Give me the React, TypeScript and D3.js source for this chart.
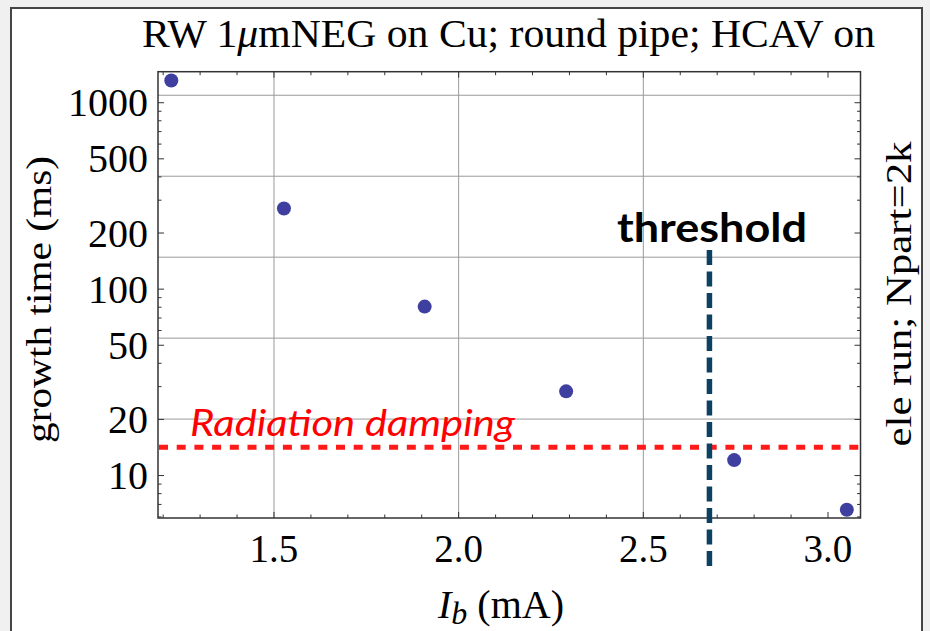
import React from "react";
import * as d3 from "d3";

// ---- data ----
const currents = [1.222, 1.527, 1.908, 2.291, 2.746, 3.051]; // I_b (mA)
const growthTimes = [1315, 271, 80.6, 28.3, 12.1, 6.56]; // ms
const yTickLabels = [10, 20, 50, 100, 200, 500, 1000];
const xTickLabels = [1.5, 2.0, 2.5, 3.0];
const xGridValues = [1.5, 2.0, 2.5];
const yGridValues = [20.09, 54.6, 148.4, 403.4, 1096.6];
const radiationDamping = 14.2; // ms
const thresholdCurrent = 2.679; // mA
const xDomain = [1.186, 3.088];
const yDomain = [5.92, 1467];

const W = 930;
const H = 631;
const L = 158, R = 860.5, T = 71.7, B = 518;

const serif = "'Liberation Serif', 'Times New Roman', serif";
const sans = "Lato, 'Open Sans', sans-serif";

export default function App() {
  const x = d3.scaleLinear().domain(xDomain).range([L, R]);
  const y = d3.scaleLog().domain(yDomain).range([B, T]);

  const xMinor = d3.range(12, 31).map((v) => v / 10).filter((v) => v >= xDomain[0] && v <= xDomain[1]);
  const yMinor: number[] = [];
  [1, 10, 100, 1000].forEach((d) => {
    for (let k = 1; k <= 9; k++) {
      const v = k * d;
      if (v >= yDomain[0] && v <= yDomain[1]) yMinor.push(v);
    }
  });
  const isXMajor = (v: number) => xTickLabels.some((m) => Math.abs(m - v) < 1e-6);
  const isYMajor = (v: number) => yTickLabels.includes(v);

  const axisColor = "#333";
  const gridColor = "#9a9a9a";

  return (
    <svg
      width={W}
      height={H}
      style={{ position: "absolute", left: 0, top: 0, display: "block" }}
    >
      <rect x={0} y={0} width={W} height={H} fill="#f0f0f0" />
      <rect x={11} y={8} width={911} height={650} fill="#fff" stroke="#454545" strokeWidth={2} />

      {/* grid */}
      {xGridValues.map((v) => (
        <line key={"gx" + v} x1={x(v)} x2={x(v)} y1={T} y2={B} stroke={gridColor} strokeWidth={1} />
      ))}
      {yGridValues.map((v) => (
        <line key={"gy" + v} x1={L} x2={R} y1={y(v)} y2={y(v)} stroke={gridColor} strokeWidth={1} />
      ))}

      {/* ticks */}
      {xMinor.map((v) => {
        const len = isXMajor(v) ? 6 : 3.5;
        return (
          <g key={"tx" + v}>
            <line x1={x(v)} x2={x(v)} y1={B} y2={B - len} stroke={axisColor} strokeWidth={1} />
            <line x1={x(v)} x2={x(v)} y1={T} y2={T + len} stroke={axisColor} strokeWidth={1} />
          </g>
        );
      })}
      {yMinor.map((v) => {
        const len = isYMajor(v) ? 6 : 3.5;
        return (
          <g key={"ty" + v}>
            <line x1={L} x2={L + len} y1={y(v)} y2={y(v)} stroke={axisColor} strokeWidth={1} />
            <line x1={R} x2={R - len} y1={y(v)} y2={y(v)} stroke={axisColor} strokeWidth={1} />
          </g>
        );
      })}

      {/* frame */}
      <rect x={L} y={T} width={R - L} height={B - T} fill="none" stroke={axisColor} strokeWidth={1.5} />

      {/* tick labels */}
      {yTickLabels.map((v) => (
        <text key={"ly" + v} x={148} y={y(v)} dy="0.34em" textAnchor="end" fontFamily={serif} fontSize={40} fill="#000">
          {v}
        </text>
      ))}
      {xTickLabels.map((v) => (
        <text key={"lx" + v} x={x(v)} y={562} textAnchor="middle" fontFamily={serif} fontSize={39} fill="#000">
          {v.toFixed(1)}
        </text>
      ))}

      {/* radiation damping */}
      <line
        x1={L + 1}
        x2={R}
        y1={y(radiationDamping)}
        y2={y(radiationDamping)}
        stroke="#ff1a1a"
        strokeWidth={5}
        strokeDasharray="9 8.7"
      />
      <text x={190} y={436} fontFamily={sans} fontStyle="italic" fontSize={37} fill="#ff0000" textLength={325} lengthAdjust="spacingAndGlyphs">
        Radiation damping
      </text>

      {/* threshold */}
      <line
        x1={x(thresholdCurrent)}
        x2={x(thresholdCurrent)}
        y1={250}
        y2={566}
        stroke="#0d4161"
        strokeWidth={5.5}
        strokeDasharray="15 6.5"
      />
      <text x={617} y={242} fontFamily={sans} fontWeight="bold" fontSize={40} fill="#000" textLength={190} lengthAdjust="spacingAndGlyphs">
        threshold
      </text>

      {/* points */}
      {currents.map((c, i) => (
        <circle key={"p" + i} cx={x(c)} cy={y(growthTimes[i])} r={7} fill="#3f3f9f" />
      ))}

      {/* title */}
      <text x={142} y={47} fontFamily={serif} fontSize={41} fill="#000" textLength={733} lengthAdjust="spacingAndGlyphs">
        RW 1<tspan fontStyle="italic">μ</tspan>mNEG on Cu; round pipe; HCAV on
      </text>

      {/* y label */}
      <text
        transform={`translate(51,299.5) rotate(-90)`}
        textAnchor="middle"
        fontFamily={serif}
        fontSize={35}
        fill="#000"
        textLength={287}
        lengthAdjust="spacingAndGlyphs"
      >
        growth time (ms)
      </text>

      {/* right label */}
      <text
        transform={`translate(911,294) rotate(-90)`}
        textAnchor="middle"
        fontFamily={serif}
        fontSize={35}
        fill="#000"
        textLength={305}
        lengthAdjust="spacingAndGlyphs"
      >
        ele run; Npart=2k
      </text>

      {/* x label */}
      <text x={501} y={618} textAnchor="middle" fontFamily={serif} fontSize={40} fill="#000">
        <tspan fontStyle="italic">I</tspan>
        <tspan fontStyle="italic" fontSize={32} dy={6}>b</tspan>
        <tspan dy={-6}> (mA)</tspan>
      </text>
    </svg>
  );
}
